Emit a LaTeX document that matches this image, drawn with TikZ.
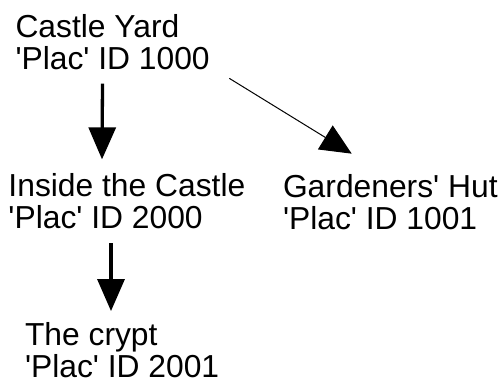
\documentclass[tikz,border=0pt]{standalone}
\usepackage{fontspec}
\setmainfont{Liberation Sans}[Ligatures=TeXOff]
\usetikzlibrary{arrows.meta}
\begin{document}
\begin{tikzpicture}[x=1pt,y=-1pt,
  place/.style={anchor=base west, inner sep=0pt, outer sep=0pt,
    font=\fontsize{31.8}{32}\selectfont},
  heavy/.style={line width=3.3pt, -{Triangle[length=32pt,width=27pt]}},
  light/.style={line width=1pt, -{Triangle[length=31pt,width=28pt]}}]
\useasboundingbox (0,0) rectangle (502,383);

% places, each with its 'Plac' ID
\node[place] (yard)   at (15.5,37)  {\begin{tabular}[t]{@{}l@{}}Castle Yard\\'Plac' ID 1000\end{tabular}};
\node[place] (inside) at (8.5,196)  {\begin{tabular}[t]{@{}l@{}}Inside the Castle\\'Plac' ID 2000\end{tabular}};
\node[place] (hut)    at (283,197)  {\begin{tabular}[t]{@{}l@{}}Gardeners' Hut\\'Plac' ID 1001\end{tabular}};
\node[place] (crypt)  at (25,345)   {\begin{tabular}[t]{@{}l@{}}The crypt\\'Plac' ID 2001\end{tabular}};

% links between places
\draw[heavy] ([xshift=87pt,yshift=-4.4pt]yard.south west) -- ([xshift=93.5pt,yshift=13.6pt]inside.north west);
\draw[light] ([xshift=213.8pt,yshift=0.9pt]yard.south west) -- ([xshift=68.7pt,yshift=20.3pt]hut.north west);
\draw[heavy] ([xshift=102.5pt,yshift=-5.1pt]inside.south west) -- ([xshift=86pt,yshift=10.9pt]crypt.north west);
\end{tikzpicture}
\end{document}
